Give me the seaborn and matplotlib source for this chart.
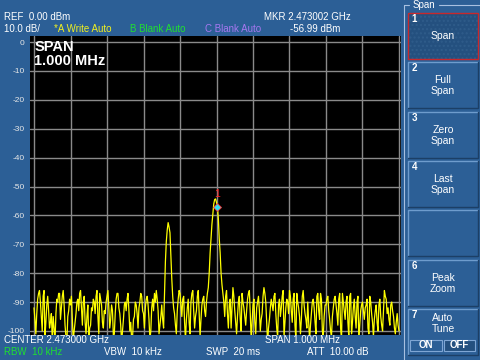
import numpy as np
import pandas as pd
import matplotlib
matplotlib.use("Agg")
import matplotlib.pyplot as plt
import seaborn as sns
from matplotlib.patches import Rectangle
from matplotlib.lines import Line2D

# ---------------- data ----------------
level_dbm = [
    -92, -96, -101, -94, -89, -87, -86, -90, -95, -100, -88, -86, -102, -97, -91, -88, -93, -99, -97, -94,
    -103, -95, -99, -104, -94, -89, -90, -87, -87, -96, -92, -88, -86, -91, -98, -102, -104, -95, -93, -89,
    -91, -88, -96, -103, -100, -97, -94, -90, -89, -93, -87, -86, -92, -98, -90, -88, -97, -101, -95, -91,
    -103, -99, -98, -92, -93, -89, -90, -94, -88, -86, -95, -101, -87, -89, -91, -97, -99, -93, -94, -90,
    -88, -86, -92, -99, -96, -91, -93, -102, -101, -94, -89, -87, -87, -92, -94, -98, -104, -100, -96, -91,
    -90, -93, -89, -87, -93, -100, -97, -103, -102, -96, -95, -90, -91, -94, -99, -92, -90, -87, -88, -93,
    -94, -99, -92, -89, -88, -91, -96, -103, -100, -92, -89, -93, -87, -90, -86, -89, -93, -101, -98, -95,
    -91, -96, -99, -88, -76, -69, -65, -62.5, -64, -66, -74, -82, -88, -92, -94, -98, -101, -93, -89, -86,
    -87, -91, -95, -89, -88, -97, -103, -96, -92, -89, -97, -101, -90, -87, -86, -93, -99, -95, -93, -88,
    -86, -94, -102, -96, -91, -89, -88, -93, -95, -90, -87, -85, -80, -73, -68, -63, -59.5, -56, -54.5, -54.3,
    -55.5, -57, -61, -68, -73, -80, -84, -87, -90, -95, -88, -86, -94, -99, -91, -89, -99, -92, -85, -88,
    -93, -97, -101, -95, -90, -88, -96, -100, -87, -90, -92, -95, -98, -93, -89, -87, -86, -94, -103, -97,
    -91, -89, -97, -101, -92, -90, -88, -93, -100, -96, -94, -88, -85, -87, -90, -97, -104, -99, -96, -92,
    -89, -91, -93, -88, -87, -94, -99, -102, -91, -89, -95, -92, -88, -86, -102, -97, -92, -89, -90, -94,
    -86, -88, -93, -97, -89, -87, -98, -103, -87, -90, -92, -95, -101, -96, -88, -86, -91, -94, -96, -99,
    -90, -97, -103, -98, -94, -90, -89, -92, -97, -101, -88, -87, -93, -96, -87, -89, -100, -102, -95, -91,
    -91, -89, -88, -93, -96, -100, -102, -95, -92, -89, -88, -91, -94, -98, -89, -87, -99, -103, -87, -90,
    -93, -96, -90, -88, -97, -102, -88, -87, -101, -97, -92, -89, -95, -99, -90, -88, -104, -98, -93, -91,
    -90, -93, -96, -92, -91, -89, -99, -101, -88, -90, -94, -97, -102, -96, -93, -91, -97, -100, -91, -89,
    -95, -98, -100, -93, -86, -88, -89, -94, -92, -96, -98, -91, -90, -93, -95, -99, -101, -97, -94, -98,
    -100,
]
freq_offset_khz = np.linspace(-500, 500, len(level_dbm))
marker_offset_khz = 2
marker_level_dbm = -56.99
y_ticks = [0, -10, -20, -30, -40, -50, -60, -70, -80, -90, -100]
x_grid_khz = [-500, -400, -300, -200, -100, 0, 100, 200, 300, 400, 500]
softkey_numbers = ["1", "2", "3", "4", "", "6", "7"]
softkey_labels = [["Span"], ["Full", "Span"], ["Zero", "Span"], ["Last", "Span"],
                  [], ["Peak", "Zoom"], ["Auto", "Tune"]]

df = pd.DataFrame({"freq": freq_offset_khz, "level": level_dbm})

# ---------------- style ----------------
BLUE = "#2c5f96"
sns.set_style("dark")
plt.rcParams["font.family"] = ["Liberation Sans", "DejaVu Sans"]

W, H = 480, 360
fig = plt.figure(figsize=(4.8, 3.6), dpi=100, facecolor=BLUE)

def fx(x):
    return x / W

def fy(y):
    return 1 - y / H

ax = fig.add_axes([fx(30), fy(335), fx(401) - fx(30), fy(36) - fy(335)])
ax.set_facecolor("black")

sns.lineplot(data=df, x="freq", y="level", ax=ax, color="#ffff00",
             linewidth=0.9, estimator=None, sort=False)

ax.set_xlim(-511, 505.5)
ax.set_ylim(-101.4, 2.1)
for v in y_ticks:
    ax.axhline(v, color="#8a8a8a", lw=1.0, zorder=0.5)
for v in x_grid_khz:
    ax.axvline(v, color="#8a8a8a", lw=1.0, zorder=0.5)
ax.grid(False)
ax.set_yticks(y_ticks)
ax.set_yticklabels([str(t) for t in y_ticks])
ax.set_xticks([])
ax.tick_params(axis="y", length=0, pad=4, labelsize=6, labelcolor="#e8e8e8")
ax.set_xlabel("")
ax.set_ylabel("")
for s in ax.spines.values():
    s.set_visible(False)

# marker
ax.plot([marker_offset_khz], [marker_level_dbm], marker="D", ms=4,
        color="#30e0f0", mec="#ff3030", mew=0.6, zorder=5)
ax.text(marker_offset_khz - 1, marker_level_dbm + 4.5, "1", color="#ff2020",
        fontsize=7.5, ha="center", va="center", zorder=6)

ax.text(0.012, 0.985, "SPAN\n1.000 MHz", transform=ax.transAxes, color="white",
        fontsize=10.5, fontweight="bold", ha="left", va="top", linespacing=0.95)

# ---------------- header / footer text ----------------
def ftext(x, y, s, color="white", size=7, ha="left", **kw):
    fig.text(fx(x), fy(y), s, color=color, fontsize=size, ha=ha, va="center", **kw)

ftext(4, 17, "REF  0.00 dBm")
ftext(4, 29, "10.0 dB/")
ftext(54, 29, "*A Write Auto", color="#f0f020")
ftext(130, 29, "B Blank Auto", color="#20e030")
ftext(205, 29, "C Blank Auto", color="#a678f0")
ftext(264, 17, "MKR 2.473002 GHz")
ftext(290, 29, "-56.99 dBm")

ftext(4, 340, "CENTER 2.473000 GHz")
ftext(265, 340, "SPAN 1.000 MHz")
ftext(4, 352, "RBW  10 kHz", color="#20e030")
ftext(104, 352, "VBW  10 kHz")
ftext(206, 352, "SWP  20 ms")
ftext(307, 352, "ATT  10.00 dB")

# ---------------- softkey panel ----------------
FRAME = "#a8c0e0"
fig.add_artist(Line2D([fx(404), fx(404)], [fy(5), fy(360)], color=FRAME, lw=0.8))
fig.add_artist(Line2D([fx(404), fx(409)], [fy(5), fy(5)], color=FRAME, lw=0.8))
fig.add_artist(Line2D([fx(439), fx(480)], [fy(5), fy(5)], color=FRAME, lw=0.8))
ftext(424, 5, "Span", size=7, ha="center")

tops = [13, 62, 112, 161, 210, 260, 309]
bh = 46
for i, top in enumerate(tops):
    x0, x1 = 408, 478
    sel = i == 0
    face = "#24507f" if sel else BLUE
    rect = Rectangle((fx(x0), fy(top + bh)), fx(x1) - fx(x0), fy(top) - fy(top + bh),
                     transform=fig.transFigure, facecolor=face, edgecolor="none")
    fig.add_artist(rect)
    if sel:
        hatch = Rectangle((fx(x0), fy(top + bh)), fx(x1) - fx(x0), fy(top) - fy(top + bh),
                          transform=fig.transFigure, facecolor="none",
                          edgecolor="#2f5c8a", lw=0, hatch="....")
        fig.add_artist(hatch)
        border = Rectangle((fx(x0), fy(top + bh)), fx(x1) - fx(x0), fy(top) - fy(top + bh),
                           transform=fig.transFigure, facecolor="none",
                           edgecolor="#c8282c", lw=1.0)
        fig.add_artist(border)
    else:
        fig.add_artist(Line2D([fx(x0), fx(x0), fx(x1)], [fy(top + bh), fy(top), fy(top)],
                              color="#6e9ccd", lw=1.0))
        fig.add_artist(Line2D([fx(x0), fx(x1), fx(x1)], [fy(top + bh), fy(top + bh), fy(top)],
                              color="#1c3f66", lw=1.0))
    num = softkey_numbers[i]
    if num:
        ftext(411.5, top + 6, num, size=7, fontweight="bold")
    lines = softkey_labels[i]
    cx = 443
    if len(lines) == 1:
        ftext(cx, top + 23, lines[0], size=7.5, ha="center")
    elif len(lines) == 2:
        if i == 6:
            ftext(cx, top + 9, lines[0], size=7.5, ha="center")
            ftext(cx, top + 20, lines[1], size=7.5, ha="center")
        else:
            ftext(cx, top + 18, lines[0], size=7.5, ha="center")
            ftext(cx, top + 29, lines[1], size=7.5, ha="center")

# ON / OFF toggle
for (bx0, bx1, lab, sel) in [(410, 442, "ON", False), (444, 475, "OFF", True)]:
    r = Rectangle((fx(bx0), fy(351)), fx(bx1) - fx(bx0), fy(340) - fy(351),
                  transform=fig.transFigure,
                  facecolor="#24507f" if sel else BLUE, edgecolor="#7fa6d4", lw=0.8)
    fig.add_artist(r)
    ftext((bx0 + bx1) / 2, 345.5, lab, size=7, ha="center", fontweight="bold")

fig.savefig("out.png", dpi=100, facecolor=BLUE)
